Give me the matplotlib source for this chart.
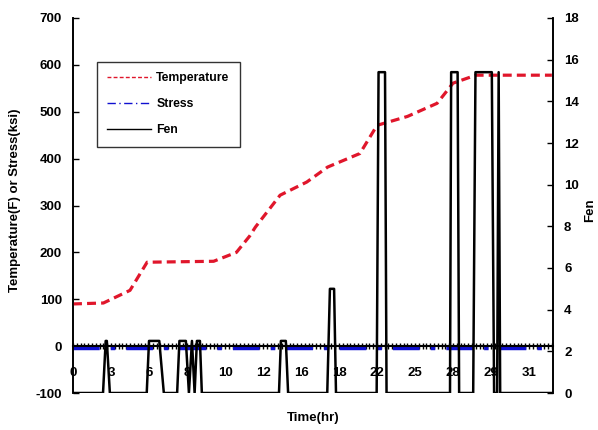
import matplotlib
matplotlib.use("Agg")
import matplotlib.pyplot as plt

plt.rcParams['font.family'] = ['Liberation Sans', 'DejaVu Sans']
plt.rcParams['axes.unicode_minus'] = False

# Category axis: sample index, labels every 10 samples
n_samples = 127
tick_pos = [0, 10, 20, 30, 40, 50, 60, 70, 80, 90, 100, 110, 120]
tick_labels = ['0', '3', '6', '8', '10', '12', '16', '18', '22', '25', '28', '29', '31']

# Temperature (F) vs sample index
temp_x = [0, 8, 15, 19.5, 37, 43, 46.5, 48, 54.5, 61.5, 67, 75.5, 80, 88, 95.8, 100, 106, 126]
temp = [90, 92, 119, 179, 181, 200, 235, 254, 322, 350, 382, 411, 471, 490, 518, 561, 578, 578]

# Stress (ksi) vs sample index
stress_x = [0, 20, 40, 60, 80, 100, 126]
stress = [-3, -3, -3, -3, -3, -3, -3]

# Fen vs sample index
fen_x = [0, 7.9, 8.6, 8.9, 9.7,
         19.4, 20.0, 22.7, 23.9,
         27.4, 28.0, 29.7, 30.5, 31.3, 32.0, 32.6, 33.4, 33.9,
         54.2, 54.7, 56.0, 56.6,
         66.9, 67.6, 68.7, 69.2,
         79.9, 80.4, 82.1, 82.5,
         99.2, 99.5, 101.2, 101.6,
         105.3, 105.9, 110.2, 110.8,
         111.6, 112.0, 112.4,
         126]
fen = [0, 0, 2.5, 2.5, 0,
       0, 2.5, 2.5, 0,
       0, 2.5, 2.5, 0, 2.5, 0, 2.5, 2.5, 0,
       0, 2.5, 2.5, 0,
       0, 5, 5, 0,
       0, 15.4, 15.4, 0,
       0, 15.4, 15.4, 0,
       0, 15.4, 15.4, 0,
       0, 15.4, 0,
       0]

fig = plt.figure(figsize=(5.98, 4.30), dpi=100)
ax = fig.add_axes([73/598, 1-393/430, 480/598, 375/430])
ax2 = ax.twinx()

l_temp, = ax.plot(temp_x, temp, color='#e0162b', lw=2.3, dashes=(2.8, 1.6), label='Temperature', zorder=3)
l_str, = ax.plot(stress_x, stress, color='#1010d0', lw=3.2, dashes=(6, 2.5, 1, 2.5), label='Stress', zorder=2)
l_fen, = ax2.plot(fen_x, fen, color='black', lw=1.8, label='Fen', zorder=3)

ax.set_xlim(0, 126.3)
ax.set_ylim(-100, 700)
ax.set_yticks(range(-100, 701, 100))
ax2.set_ylim(0, 18)
ax2.set_yticks(range(0, 19, 2))

ax.spines['bottom'].set_position(('data', 0))
ax.spines['bottom'].set_linewidth(1.5)
ax.spines['top'].set_visible(False)
ax2.spines['top'].set_visible(False)
ax2.spines['bottom'].set_visible(False)
for a in (ax, ax2):
    a.spines['left'].set_linewidth(1.2)
    a.spines['right'].set_linewidth(1.2)

ax.set_xticks(tick_pos)
ax.set_xticklabels(tick_labels)
ax.set_xticks(range(n_samples), minor=True)
ax.tick_params(axis='x', which='both', direction='inout', length=4, width=1, pad=13,
               labelsize=9.5)
for t in ax.get_xticklabels():
    t.set_fontweight('bold')
ax.tick_params(axis='y', direction='in', length=4, width=1, labelsize=9.5, pad=8)
ax2.tick_params(axis='y', direction='in', length=4, width=1, labelsize=9.5, pad=8)
for t in ax.get_yticklabels() + ax2.get_yticklabels():
    t.set_fontweight('bold')

fig.text(15/598, 1-200/430, 'Temperature(F) or Stress(ksi)', rotation=90, ha='center', va='center',
         fontsize=9.5, fontweight='bold')
fig.text(0.523, 1-418/430, 'Time(hr)', ha='center', va='center', fontsize=9.5, fontweight='bold')
fig.text(590/598, 1-210/430, 'Fen', rotation=90, ha='center', va='center', fontsize=9.5, fontweight='bold')

leg = ax2.legend(handles=[l_temp, l_str, l_fen], loc='upper left',
                 bbox_to_anchor=(0.05, 0.883), borderaxespad=0,
                 prop={'size': 8.8, 'weight': 'bold'},
                 handlelength=3.6, labelspacing=1.15, borderpad=0.85, handletextpad=0.4,
                 fancybox=False, frameon=True)
leg.get_frame().set_edgecolor('black')
leg.get_frame().set_linewidth(1.0)
for lh in leg.get_lines():
    lh.set_linewidth(1.0)

fig.savefig('out.png', dpi=100)
